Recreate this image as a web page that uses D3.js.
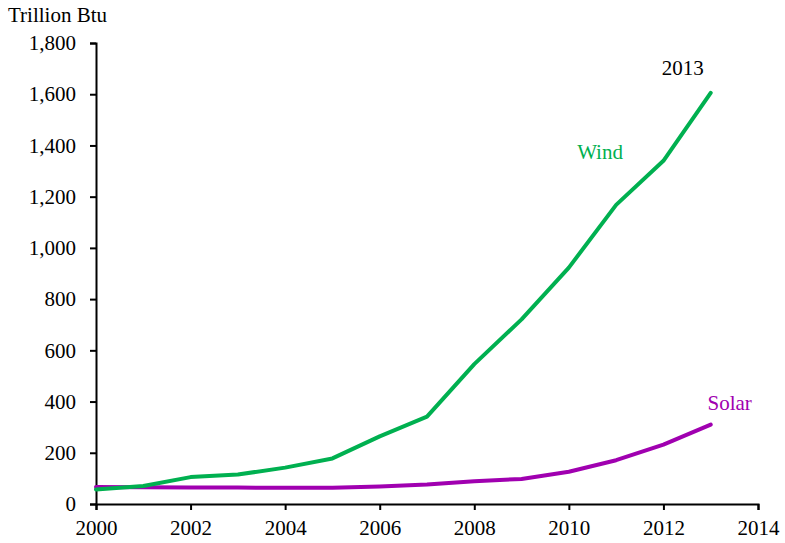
<!DOCTYPE html>
<html><head>
<script src="https://d3js.org/d3.v7.min.js"></script>
<style>
  body { margin: 0; background: #fff; }
  text { font-family: "Liberation Serif", "Times New Roman", serif; }
</style>
</head>
<body>
<svg id="chart" width="785" height="543"></svg>
<script>
// data (trillion Btu)
const years = [2000, 2001, 2002, 2003, 2004, 2005, 2006, 2007, 2008, 2009, 2010, 2011, 2012, 2013];
const wind  = [57, 70, 105, 115, 142, 178, 264, 341, 546, 721, 923, 1168, 1340, 1605];
const solar = [66, 65, 64, 64, 63, 63, 68, 76, 89, 98, 126, 171, 232, 310];
const yTicks = [0, 200, 400, 600, 800, 1000, 1200, 1400, 1600, 1800];
const xTicks = [2000, 2002, 2004, 2006, 2008, 2010, 2012, 2014];

const svg = d3.select("#chart");
const margin = { top: 43, right: 27, bottom: 39, left: 96 };
const width = +svg.attr("width") - margin.left - margin.right;
const height = +svg.attr("height") - margin.top - margin.bottom;

const g = svg.append("g").attr("transform", "translate(" + margin.left + "," + margin.top + ")");

const x = d3.scaleLinear().domain([2000, 2014]).range([0, width]);
const y = d3.scaleLinear().domain([0, 1800]).range([height, 0]);

// axes
const yAxis = g.append("g")
  .call(d3.axisLeft(y).tickValues(yTicks).tickSize(6).tickPadding(14).tickFormat(d3.format(",")));
const xAxis = g.append("g")
  .attr("transform", "translate(0," + height + ")")
  .call(d3.axisBottom(x).tickValues(xTicks).tickSize(6).tickPadding(10).tickFormat(d3.format("d")));

[yAxis, xAxis].forEach(a => {
  a.select(".domain").attr("stroke", "#000").attr("stroke-width", 2);
  a.selectAll(".tick line").attr("stroke", "#000").attr("stroke-width", 2);
  a.selectAll(".tick text").attr("fill", "#000").style("font-size", "21px")
    .style("font-family", "'Liberation Serif', serif");
});

const line = d3.line().x((d, i) => x(years[i])).y(d => y(d));

g.append("path").datum(solar)
  .attr("fill", "none").attr("stroke", "#A000B0").attr("stroke-width", 4)
  .attr("stroke-linejoin", "round").attr("stroke-linecap", "round")
  .attr("d", line);

g.append("path").datum(wind)
  .attr("fill", "none").attr("stroke", "#00B050").attr("stroke-width", 4)
  .attr("stroke-linejoin", "round").attr("stroke-linecap", "round")
  .attr("d", line);

// labels
svg.append("text").attr("x", 8).attr("y", 22).style("font-size", "21px").text("Trillion Btu");
g.append("text").attr("x", x(2013) - 28).attr("y", y(1605) - 18).attr("text-anchor", "middle")
  .style("font-size", "21px").text("2013");
g.append("text").attr("x", x(2010.66)).attr("y", y(1347)).attr("text-anchor", "middle")
  .attr("fill", "#00B050").style("font-size", "21px").text("Wind");
g.append("text").attr("x", x(2013.4)).attr("y", y(367)).attr("text-anchor", "middle")
  .attr("fill", "#A000B0").style("font-size", "21px").text("Solar");
</script>
</body></html>
